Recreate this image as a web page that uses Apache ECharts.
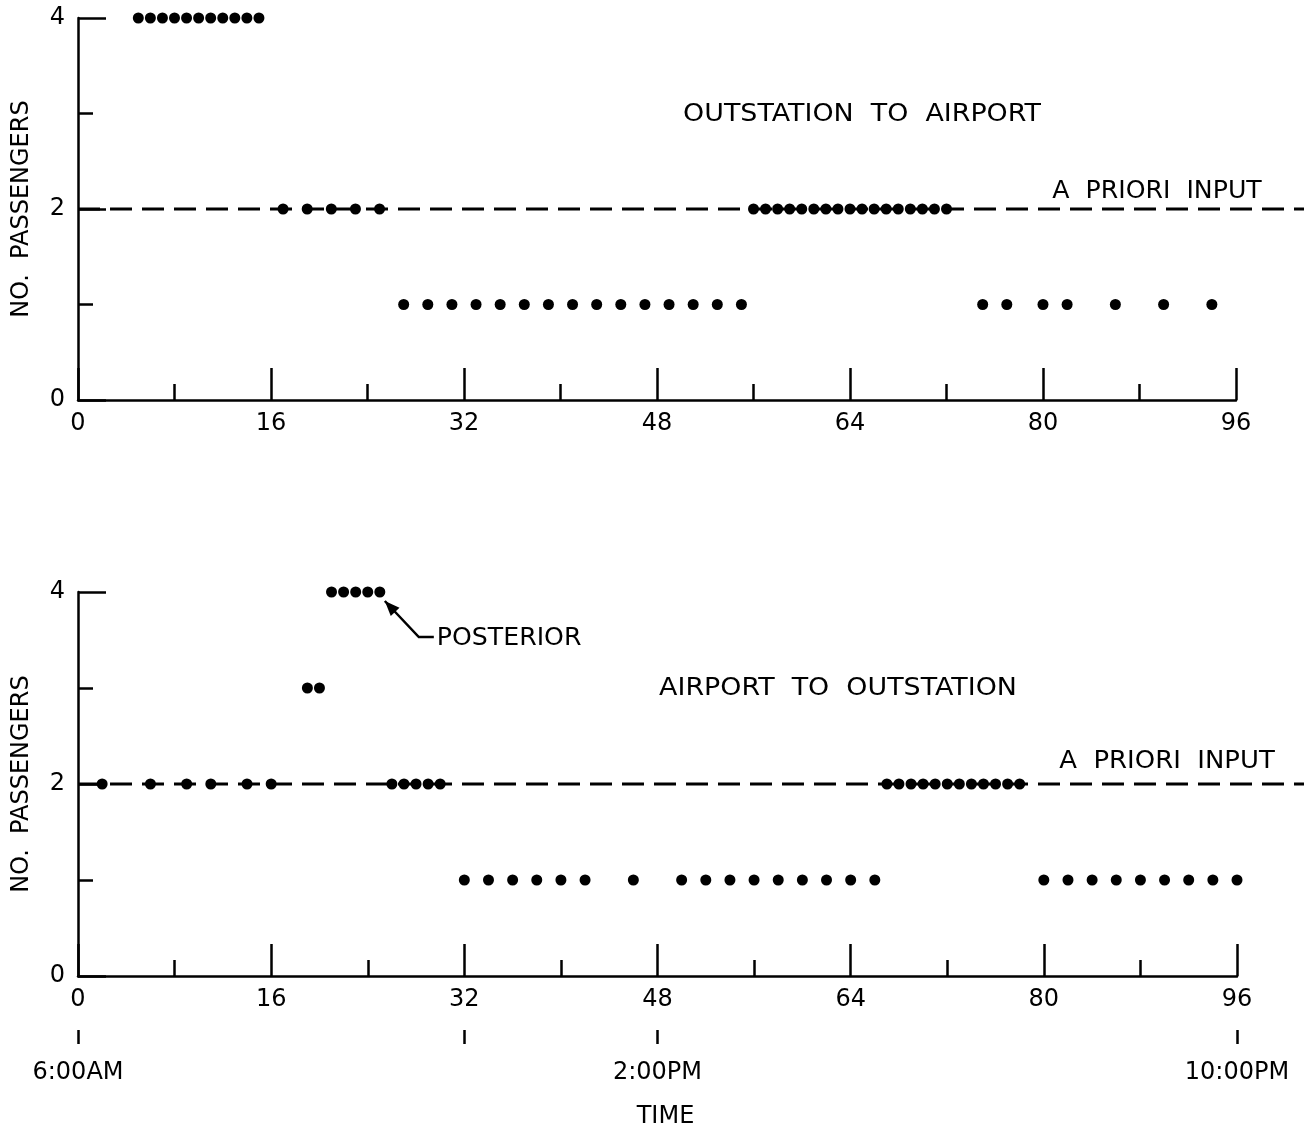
<!DOCTYPE html>
<html><head><meta charset="utf-8">
<script src="https://cdn.jsdelivr.net/npm/echarts@6/dist/echarts.min.js"></script>
<style>html,body{margin:0;padding:0;background:#fff}#c{width:1304px;height:1133px}</style>
</head><body><div id="c"></div>
<script>
// ---- data ----
const xTickValues = [0, 16, 32, 48, 64, 80, 96];
const yTickValues = [0, 2, 4];
const aPriori = 2;
const topTitle = 'OUTSTATION  TO  AIRPORT';
const botTitle = 'AIRPORT  TO  OUTSTATION';
const aPrioriLabel = 'A  PRIORI  INPUT';
const posteriorLabel = 'POSTERIOR';

// top panel: outstation to airport
const topLevel4 = [5, 6, 7, 8, 9, 10, 11, 12, 13, 14, 15];
const topLevel2 = [17, 19, 21, 23, 25, 56, 57, 58, 59, 60, 61, 62, 63, 64, 65, 66, 67, 68, 69, 70, 71, 72];
const topLevel1 = [27, 29, 31, 33, 35, 37, 39, 41, 43, 45, 47, 49, 51, 53, 55, 75, 77, 80, 82, 86, 90, 94];

// bottom panel: airport to outstation
const botLevel4 = [21, 22, 23, 24, 25];
const botLevel3 = [19, 20];
const botLevel2 = [2, 6, 9, 11, 14, 16, 26, 27, 28, 29, 30, 67, 68, 69, 70, 71, 72, 73, 74, 75, 76, 77, 78];
const botLevel1 = [32, 34, 36, 38, 40, 42, 46, 50, 52, 54, 56, 58, 60, 62, 64, 66, 80, 82, 84, 86, 88, 90, 92, 94, 96];

// time-of-day axis
const timeTickValues = [0, 32, 48, 96];
const timeLabelValues = [0, 48, 96];
const timeLabelTexts = ['6:00AM', '2:00PM', '10:00PM'];

// ---- chart ----
const FONT = 'DejaVu Sans';
const FS = 24;
const BLACK = '#000';
const chart = echarts.init(document.getElementById('c'), null, {renderer: 'canvas'});

function pts(xs, y) { return xs.map(x => [x, y]); }

function xAxisCfg(gi) {
  return {
    type: 'value', gridIndex: gi, min: 0, max: 96, interval: 16,
    axisLine: {lineStyle: {color: BLACK, width: 2.5}},
    axisTick: {inside: true, length: 32, lineStyle: {color: BLACK, width: 2.5}},
    minorTick: {show: true, splitNumber: 2, length: 16, lineStyle: {color: BLACK, width: 2.5}},
    splitLine: {show: false}, minorSplitLine: {show: false},
    axisLabel: {color: BLACK, fontSize: FS, fontFamily: FONT, margin: 12,
      customValues: xTickValues}
  };
}
function yAxisCfg(gi) {
  return {
    type: 'value', gridIndex: gi, min: 0, max: 4, interval: 2,
    name: 'NO.  PASSENGERS', nameLocation: 'middle', nameGap: 44,
    nameTextStyle: {color: BLACK, fontSize: FS, fontFamily: FONT},
    axisLine: {lineStyle: {color: BLACK, width: 2.5}},
    axisTick: {inside: true, length: 28, lineStyle: {color: BLACK, width: 2.5}},
    minorTick: {show: true, splitNumber: 2, length: 15, lineStyle: {color: BLACK, width: 2.5}},
    splitLine: {show: false}, minorSplitLine: {show: false},
    axisLabel: {color: BLACK, fontSize: FS, fontFamily: FONT, margin: 13,
      customValues: yTickValues}
  };
}
function dots(gi, data) {
  return {type: 'scatter', xAxisIndex: gi, yAxisIndex: gi, data: data,
    symbol: 'circle', symbolSize: 11, itemStyle: {color: BLACK, opacity: 1}, z: 5, silent: true};
}

chart.setOption({
  animation: false,
  backgroundColor: '#fff',
  grid: [
    {left: 78, right: 68, top: 18, height: 382},
    {left: 78, right: 67, top: 592, height: 384}
  ],
  xAxis: [
    xAxisCfg(0),
    xAxisCfg(1),
    {
      type: 'value', gridIndex: 1, position: 'bottom', offset: 54, min: 0, max: 96,
      axisLine: {show: false},
      axisTick: {show: true, inside: false, length: 14, customValues: timeTickValues,
        lineStyle: {color: BLACK, width: 2.5}},
      axisLabel: {color: BLACK, fontSize: FS, fontFamily: FONT, margin: 31,
        customValues: timeLabelValues,
        formatter: v => timeLabelTexts[timeLabelValues.indexOf(v)]},
      splitLine: {show: false},
      name: 'TIME', nameLocation: 'middle', nameGap: 75,
      nameTextStyle: {color: BLACK, fontSize: FS, fontFamily: FONT, padding: [0, 0, 0, 16]}
    }
  ],
  yAxis: [yAxisCfg(0), yAxisCfg(1)],
  series: [
    dots(0, pts(topLevel4, 4)),
    dots(0, pts(topLevel2, 2)),
    dots(0, pts(topLevel1, 1)),
    dots(1, pts(botLevel4, 4)),
    dots(1, pts(botLevel3, 3)),
    dots(1, pts(botLevel2, 2)),
    dots(1, pts(botLevel1, 1))
  ]
});

// a priori dashed lines (through the library's scale), extended to the page edge
const W = 1304;
const topA = chart.convertToPixel({gridIndex: 0}, [0, aPriori]);
const botA = chart.convertToPixel({gridIndex: 1}, [0, aPriori]);
const postDot = chart.convertToPixel({gridIndex: 1}, [botLevel4[botLevel4.length - 1], 4]);

const tip = [postDot[0] + 5, postDot[1] + 9];
const bend = [postDot[0] + 39, postDot[1] + 45];
const tail = [bend[0] + 15, bend[1]];
const dx = tip[0] - bend[0], dy = tip[1] - bend[1];
const len = Math.hypot(dx, dy), ux = dx / len, uy = dy / len;
const bx = tip[0] - ux * 15, by = tip[1] - uy * 15;
const head = [tip, [bx - uy * 6, by + ux * 6], [bx + uy * 6, by - ux * 6]];

const dashStyle = {stroke: BLACK, lineWidth: 3, lineDash: [22, 10]};
const txt = (x, y, s, align, sx) => ({type: 'text', x: x, y: y, z: 10, scaleX: sx || 1,
  style: {text: s, fill: BLACK, font: FS + 'px "' + FONT + '"', textAlign: align || 'center', textVerticalAlign: 'middle'}});

chart.setOption({
  graphic: [
    {type: 'line', z: 1, shape: {x1: topA[0], y1: topA[1], x2: W, y2: topA[1]}, style: dashStyle},
    {type: 'line', z: 1, shape: {x1: botA[0], y1: botA[1], x2: W, y2: botA[1]}, style: dashStyle},
    txt(862, 115, topTitle, 'center', 1.12),
    txt(838, 689, botTitle, 'center', 1.12),
    txt(1157, 192, aPrioriLabel, 'center', 1.05),
    txt(1167, 762, aPrioriLabel, 'center', 1.08),
    txt(tail[0] + 3, tail[1] + 2, posteriorLabel, 'left', 1.05),
    {type: 'polyline', z: 10, shape: {points: [tip, bend, tail]}, style: {stroke: BLACK, lineWidth: 2.5, fill: null}},
    {type: 'polygon', z: 10, shape: {points: head}, style: {fill: BLACK}}
  ]
});
</script>
</body></html>
